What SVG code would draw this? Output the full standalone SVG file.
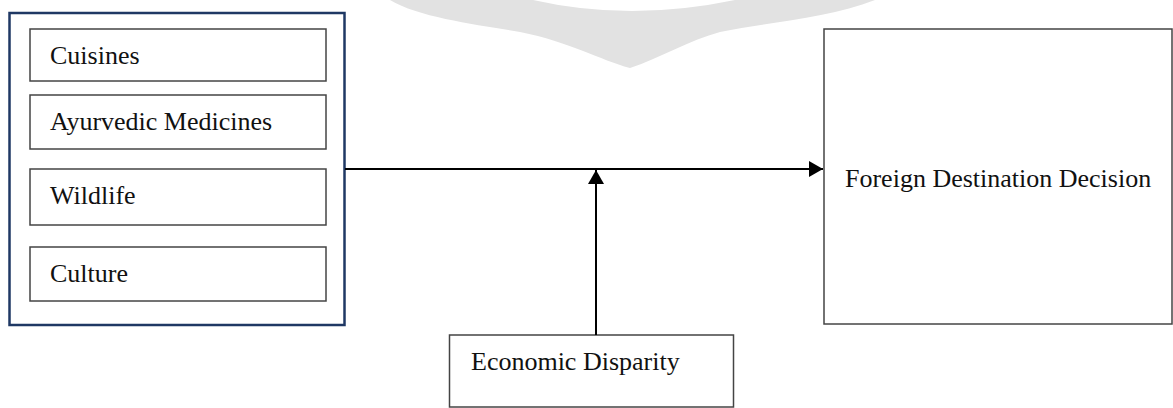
<svg xmlns="http://www.w3.org/2000/svg" width="1173" height="408" viewBox="0 0 1173 408">
  <style>
    .box { fill: #ffffff; stroke: #444444; stroke-width: 1.5; }
    .outer { fill: #ffffff; stroke: #1f3864; stroke-width: 2.5; }
    .lbl { font-family: "Liberation Serif", "Times New Roman", serif; font-size: 26px; fill: #111111; }
    .conn { stroke: #000000; stroke-width: 2; fill: none; }
  </style>
  <defs>
    <marker id="arrow" viewBox="0 0 14 16" refX="14" refY="8" markerWidth="14" markerHeight="16" markerUnits="userSpaceOnUse" orient="auto">
      <path d="M0,0 L14,8 L0,16 Z" fill="#000000"/>
    </marker>
  </defs>
  <rect width="1173" height="408" fill="#ffffff"/>
  <path d="M390 0 L533 0 Q630 22 735 0 L875 0 C830 18 770 22 720 32 C690 40 660 58 630 68 C600 60 570 42 520 32 C480 25 420 18 390 0 Z" fill="#e2e2e2"/>
  <g id="factors">
    <rect class="outer" x="9.5" y="13" width="335" height="312"/>
    <g id="cuisines">
      <rect class="box" x="30" y="29" width="296" height="52"/>
      <text class="lbl" x="50" y="64">Cuisines</text>
    </g>
    <g id="ayurvedic">
      <rect class="box" x="30" y="95" width="296" height="54"/>
      <text class="lbl" x="50" y="130">Ayurvedic Medicines</text>
    </g>
    <g id="wildlife">
      <rect class="box" x="30" y="169" width="296" height="56"/>
      <text class="lbl" x="50" y="204">Wildlife</text>
    </g>
    <g id="culture">
      <rect class="box" x="30" y="247" width="296" height="54"/>
      <text class="lbl" x="50" y="282">Culture</text>
    </g>
  </g>
  <g id="decision">
    <rect class="box" x="824" y="29" width="348" height="295"/>
    <text class="lbl" x="845" y="187">Foreign Destination Decision</text>
  </g>
  <g id="economic">
    <rect class="box" x="449.5" y="335" width="284" height="72"/>
    <text class="lbl" x="471" y="370">Economic Disparity</text>
  </g>
  <g id="connectors">
    <line class="conn" x1="345" y1="169" x2="823" y2="169" marker-end="url(#arrow)"/>
    <line class="conn" x1="596" y1="335" x2="596" y2="170" marker-end="url(#arrow)"/>
  </g>
</svg>
